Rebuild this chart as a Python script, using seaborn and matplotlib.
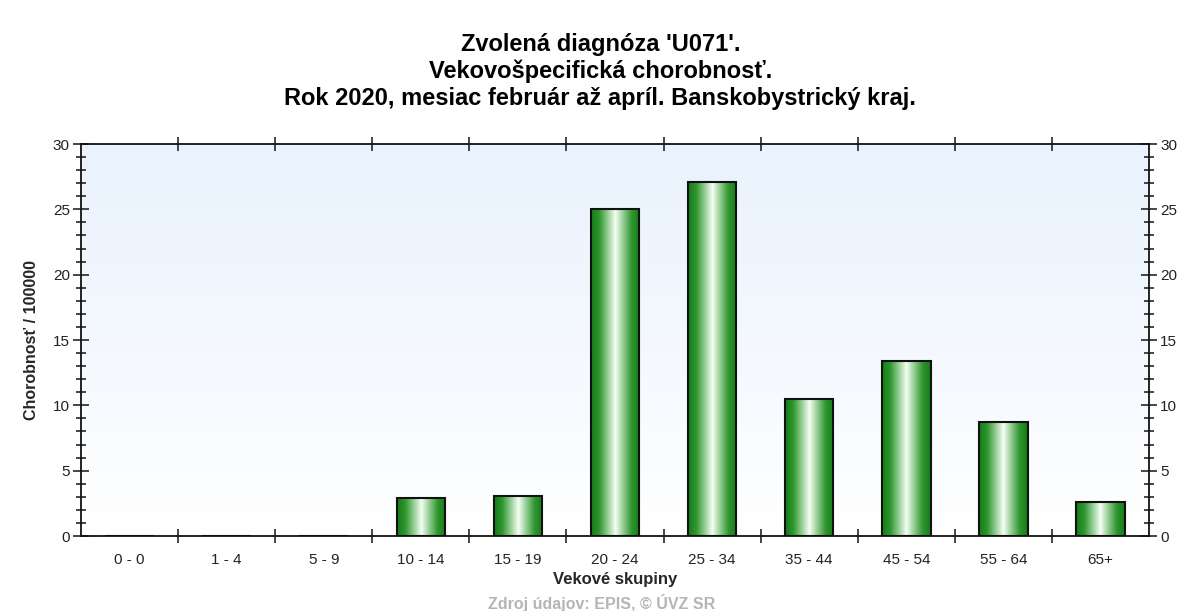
import matplotlib
matplotlib.use("Agg")
import matplotlib.pyplot as plt
from matplotlib.colors import LinearSegmentedColormap
import seaborn as sns
import pandas as pd
import numpy as np

# data
age_groups = ["0 - 0", "1 - 4", "5 - 9", "10 - 14", "15 - 19", "20 - 24",
              "25 - 34", "35 - 44", "45 - 54", "55 - 64", "65+"]
morbidity = [0, 0, 0, 2.9, 3.1, 25.0, 27.1, 10.5, 13.4, 8.7, 2.6]

title_lines = ["Zvolená diagnóza 'U071'.",
               "Vekovošpecifická chorobnosť.",
               "Rok 2020, mesiac február až apríl. Banskobystrický kraj."]

df = pd.DataFrame({"group": age_groups, "value": morbidity})

sns.set_style("white")
plt.rcParams["font.family"] = ["Liberation Sans", "DejaVu Sans"]

fig = plt.figure(figsize=(11.97, 6.11), dpi=100)
ax = fig.add_axes([0.0677, 0.1227, 0.8922, 0.6416])

sns.barplot(data=df, x="group", y="value", ax=ax, width=0.5,
            color="#1a8c1a", edgecolor="#111111", linewidth=1.5, zorder=3)

# background gradient (light blue at top -> white at bottom)
bg = LinearSegmentedColormap.from_list("bg", ["#ffffff", "#e9f2fd"])
ax.imshow(np.linspace(0, 1, 256).reshape(-1, 1), cmap=bg, origin="lower",
          extent=[-0.5, 10.5, 0, 30], aspect="auto", zorder=0)

# cylinder-like shading of bars
shade = LinearSegmentedColormap.from_list(
    "shade", ["#147c14", "#2f962f", "#8fca8f", "#f4fff4", "#8fca8f", "#2f962f", "#147c14"])
grad = np.linspace(0, 1, 256).reshape(1, -1)
for p in ax.patches:
    h = p.get_height()
    if h <= 0:
        continue
    x0 = p.get_x()
    w = p.get_width()
    im = ax.imshow(grad, cmap=shade, extent=[x0, x0 + w, 0, h],
                   aspect="auto", zorder=2)
    im.set_clip_path(p)
    p.set_facecolor("none")

ax.set_xlim(-0.5, 10.5)
ax.set_ylim(0, 30)

ax.set_yticks(np.arange(0, 31, 5))
ax.set_yticks(np.arange(0, 31, 1), minor=True)
ax.set_xticks(range(len(age_groups)))
ax.set_xticklabels(age_groups)
ax.set_xticks(np.arange(0.5, 10.5, 1), minor=True)

ax.tick_params(axis="y", which="major", direction="inout", length=12, width=1.2,
               left=True, right=True, labelleft=True, labelright=True,
               labelsize=11, labelcolor="#222222", pad=2)
ax.tick_params(axis="y", which="minor", direction="inout", length=7, width=1.2,
               left=True, right=True)
ax.tick_params(axis="x", which="major", length=0, labelsize=11,
               labelcolor="#222222", pad=12)
ax.tick_params(axis="x", which="minor", direction="inout", length=10, width=1.2,
               bottom=True, top=True)

for s in ax.spines.values():
    s.set_visible(True)
    s.set_color("#111111")
    s.set_linewidth(1.3)

ax.set_xlabel("Vekové skupiny", fontsize=12, fontweight="bold", labelpad=4)
ax.set_ylabel("Chorobnosť / 100000", fontsize=11.5, fontweight="bold", labelpad=10)

for i, line in enumerate(title_lines):
    fig.text(0.5015, 1 - (45 + 26.5 * i) / 611, line, ha="center", va="center",
             fontsize=17, fontweight="bold", color="#000000")

fig.text(0.503, 1 - 603 / 611, "Zdroj údajov: EPIS, © ÚVZ SR", ha="center",
         va="center", fontsize=11.5, fontweight="bold", color="#b5b5b5")

fig.savefig("out.png", dpi=100)
